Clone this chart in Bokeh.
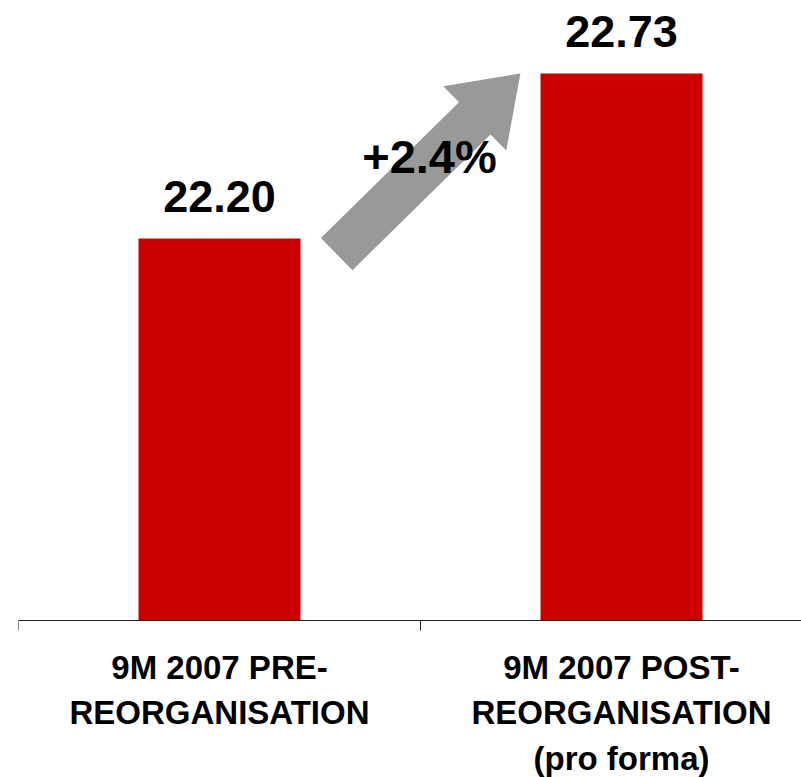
import math
from bokeh.plotting import figure
from bokeh.models import Range1d, FixedTicker, ColumnDataSource
from bokeh.core.properties import value
from bokeh.embed import file_html
from bokeh.resources import INLINE

# ---- data ----
categories = ["9M 2007 PRE-\nREORGANISATION", "9M 2007 POST-\nREORGANISATION\n(pro forma)"]
values = [22.20, 22.73]
value_labels = ["22.20", "22.73"]
change_label = "+{:.1f}%".format((values[1] / values[0] - 1) * 100)
BASE = 20.973          # value at which the bars start (baseline of the chart)

# ---- layout ----
W, H = 801, 777
BL = 18
PX_PER_CAT = 402.0
PX_PER_UNIT = 311.3
AXIS_Y = 620           # pixel row of the baseline
frame_w = W - BL
x_start, x_end = 0.0, frame_w / PX_PER_CAT
y_start = BASE - (H - AXIS_Y) / PX_PER_UNIT
y_end = BASE + AXIS_Y / PX_PER_UNIT
bar_w = 0.403
FONT = "Liberation Sans"

centers = [i + 0.5 for i in range(len(values))]

p = figure(width=W, height=H, output_backend="svg", toolbar_location=None,
           x_range=Range1d(x_start, x_end), y_range=Range1d(y_start, y_end),
           y_axis_location=None, min_border_left=BL, min_border_right=0,
           min_border_top=0, min_border_bottom=0, outline_line_color=None)
p.grid.visible = False
p.background_fill_color = "white"
p.border_fill_color = "white"

src = ColumnDataSource(dict(x=centers, top=values, lab=value_labels))
p.vbar(x="x", top="top", bottom=BASE, width=bar_w, source=src,
       fill_color="#CC0000", line_color=None)

# arrow (built in screen space from the bar geometry)
sx = PX_PER_CAT
sy = PX_PER_UNIT
ax0 = centers[0] + bar_w / 2 + 0.09
ay0 = values[0] - 0.05
ax1 = centers[1] - bar_w / 2 - 0.05
ay1 = values[1]
X0, Y0 = ax0 * sx, ay0 * sy
X1, Y1 = ax1 * sx, ay1 * sy
dx, dy = X1 - X0, Y1 - Y0
L = math.hypot(dx, dy)
ux, uy = dx / L, dy / L
nx, ny = -uy, ux
shaft_hw, head_hw, head_len = 22.5, 45.0, 64.0
base = L - head_len
local = [(0, shaft_hw), (base, shaft_hw), (base, head_hw), (L, 0),
         (base, -head_hw), (base, -shaft_hw), (0, -shaft_hw)]
axs = [(X0 + a * ux + b * nx) / sx for a, b in local]
ays = [(Y0 + a * uy + b * ny) / sy for a, b in local]
p.patch(axs, ays, fill_color="#999999", line_color=None)

# value labels
p.text(x="x", y="top", text="lab", source=src, text_align="center",
       text_baseline="alphabetic", y_offset=-42,
       text_font=value(FONT), text_font_style="bold", text_font_size="45px",
       text_color="black")

# change label
p.text(x=[sum(centers) / 2], y=[sum(values) / 2], text=[change_label],
       text_align="center", text_baseline="alphabetic", x_offset=9, y_offset=0,
       text_font=value(FONT), text_font_style="bold", text_font_size="47px",
       text_color="black")

# axis at the baseline: line + ticks at category boundaries
ax = p.xaxis[0]
ax.fixed_location = BASE
ax.ticker = FixedTicker(ticks=[0, 1, 2])
ax.major_label_overrides = {0: "", 1: "", 2: ""}
ax.major_label_text_font_size = "1px"
ax.major_label_standoff = 0
ax.major_tick_out = 10
ax.major_tick_in = 0
ax.minor_tick_line_color = None
ax.axis_line_color = "#222222"
ax.major_tick_line_color = "#222222"

# category labels below the axis
cat_src = ColumnDataSource(dict(x=centers, y=[BASE] * len(centers), t=categories))
p.text(x="x", y="y", text="t", source=cat_src, text_align="center",
       text_baseline="top", y_offset=28,
       text_font=value(FONT), text_font_style="bold", text_font_size="33px",
       text_line_height=1.24, text_color="black")

open("out.html", "w").write(file_html(p, INLINE))
